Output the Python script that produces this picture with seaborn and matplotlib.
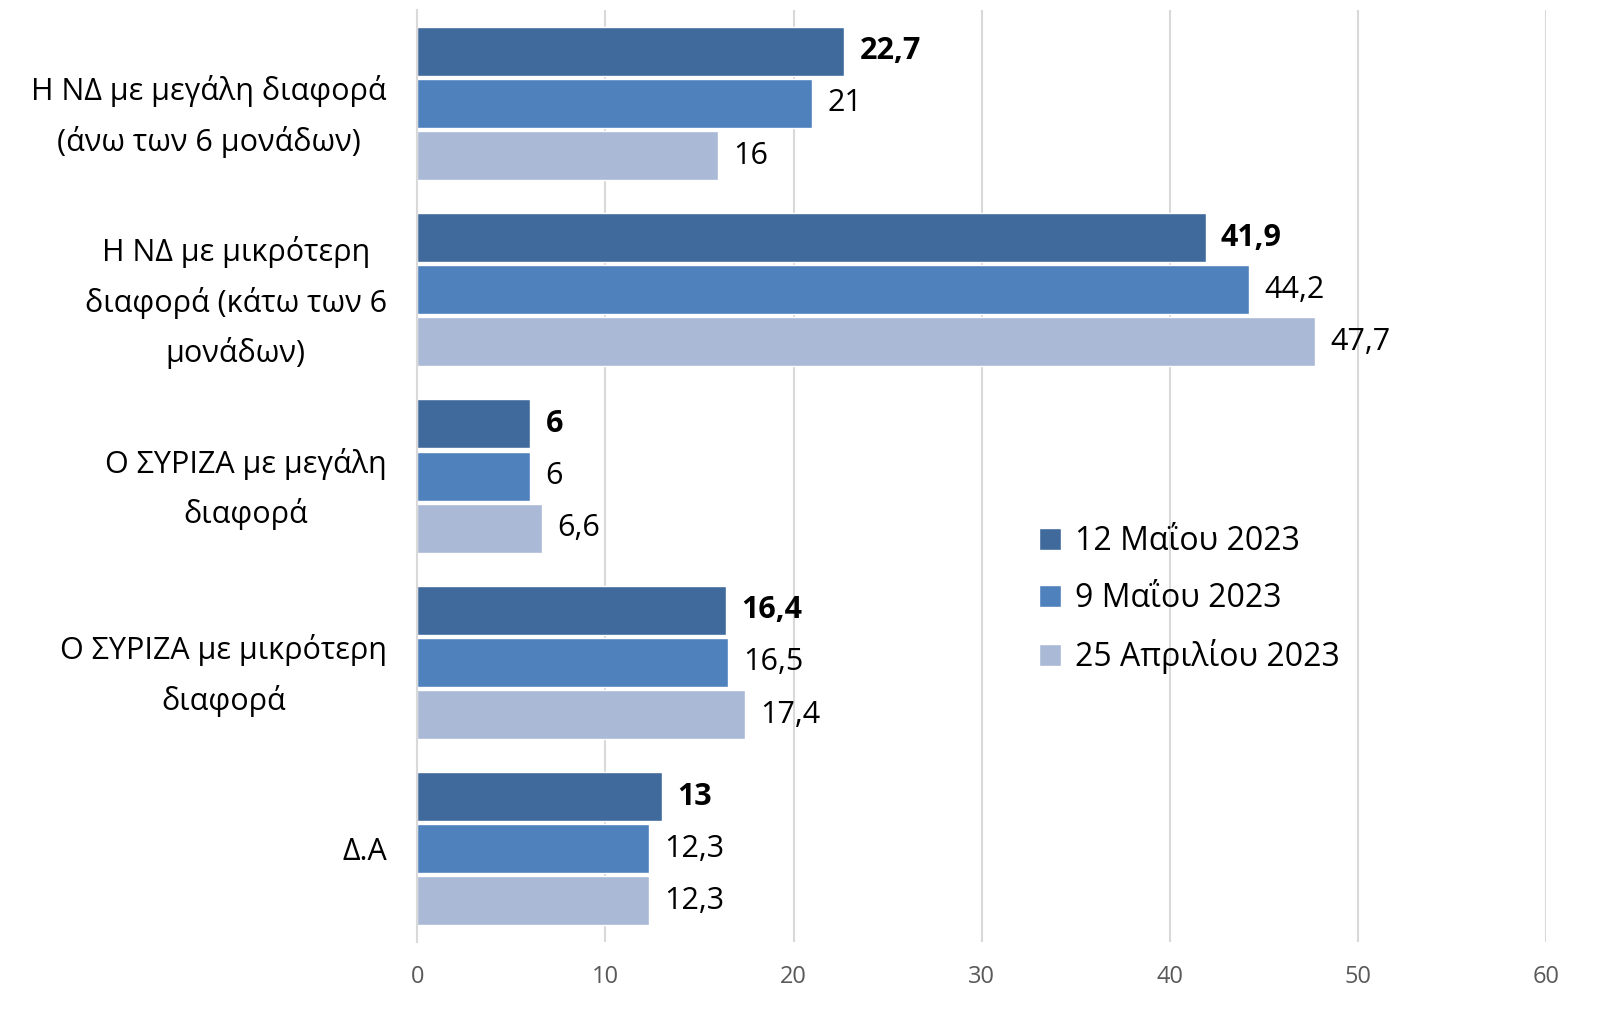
import pandas as pd
import seaborn as sns
import matplotlib.pyplot as plt

# data
categories = ['Η ΝΔ με μεγάλη διαφορά\n(άνω των 6 μονάδων)',
              'Η ΝΔ με μικρότερη\nδιαφορά (κάτω των 6\nμονάδων)',
              'Ο ΣΥΡΙΖΑ με μεγάλη\nδιαφορά',
              'Ο ΣΥΡΙΖΑ με μικρότερη\nδιαφορά',
              'Δ.Α']
series = ['12 Μαΐου 2023', '9 Μαΐου 2023', '25 Απριλίου 2023']
vals_12may = [22.7, 41.9, 6, 16.4, 13]
vals_9may = [21, 44.2, 6, 16.5, 12.3]
vals_25apr = [16, 47.7, 6.6, 17.4, 12.3]
colors = ['#406A9C', '#4F81BD', '#AAB9D6']

df = pd.DataFrame({
    'cat': categories * 3,
    'serie': [series[0]] * 5 + [series[1]] * 5 + [series[2]] * 5,
    'val': vals_12may + vals_9may + vals_25apr,
})

sns.set_theme(style='white')
plt.rcParams['font.family'] = ['Open Sans', 'DejaVu Sans']
plt.rcParams['text.color'] = 'black'

fig = plt.figure(figsize=(16.24, 10.26), dpi=100)
ax = fig.add_axes([0.257, 0.082, 0.695, 0.908])

sns.barplot(data=df, y='cat', x='val', hue='serie', orient='h',
            palette=colors, width=0.84, gap=0.06, ax=ax, saturation=1)

def fmt(v):
    s = ('%g' % v).replace('.', ',')
    return s

for i, cont in enumerate(ax.containers):
    labels = [fmt(b.get_width()) for b in cont]
    ax.bar_label(cont, labels=labels, padding=11, fontsize=22,
                 fontweight='bold' if i == 0 else 'normal', color='black')

ax.set_xlim(0, 60)
ax.set_xticks(range(0, 61, 10))
ax.set_ylabel('')
ax.set_xlabel('')
ax.grid(axis='x', color='#D9D9D9', linewidth=1.5)
ax.set_axisbelow(True)
for s in ['top', 'right', 'bottom']:
    ax.spines[s].set_visible(False)
ax.spines['left'].set_color('#D9D9D9')
ax.spines['left'].set_linewidth(1.5)
ax.tick_params(axis='x', length=0, labelsize=17, labelcolor='#595959', pad=17)
ax.tick_params(axis='y', length=0, labelsize=22, pad=22, labelcolor='black')
for t in ax.get_yticklabels():
    t.set_multialignment('center')
    t.set_linespacing(1.75)

leg = ax.legend(loc='upper left', bbox_to_anchor=(0.525, 0.478), frameon=False,
                prop={'size': 23}, handlelength=0.7,
                handleheight=0.7, handletextpad=0.45, labelspacing=0.75)
for t in leg.get_texts():
    t.set_color('black')

fig.savefig('out.png', dpi=100)
